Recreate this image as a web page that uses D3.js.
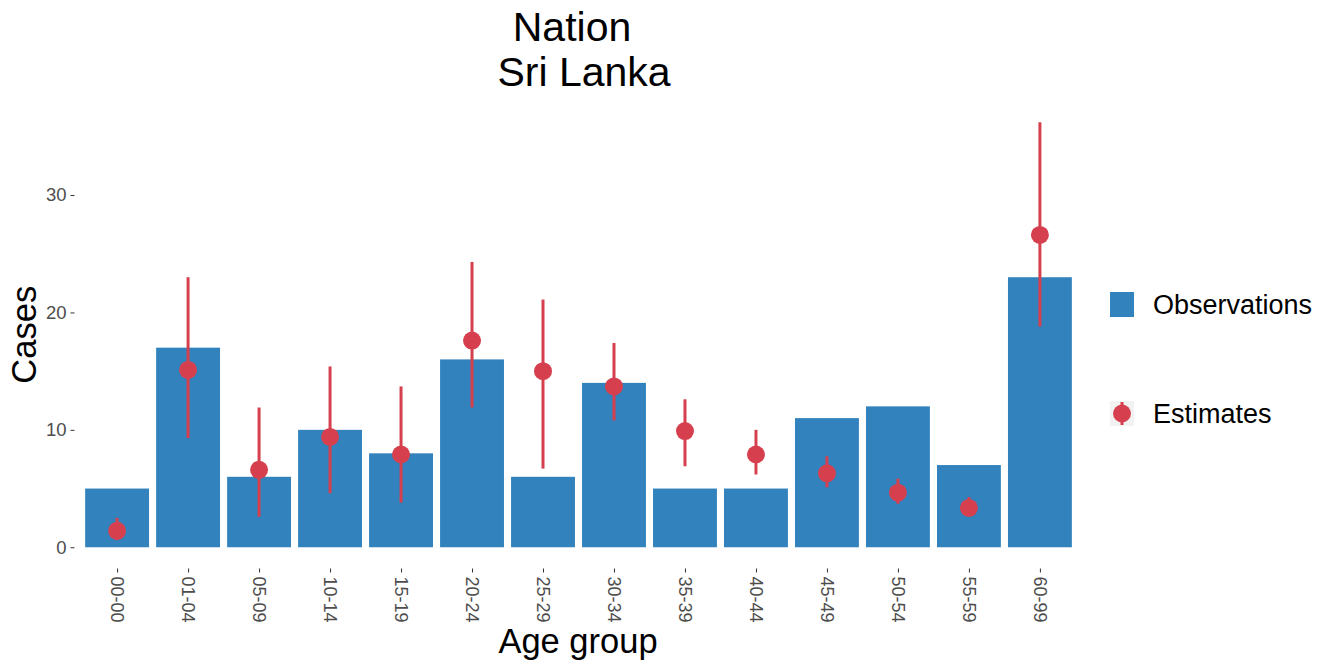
<!DOCTYPE html>
<html><head><meta charset="utf-8">
<script src="https://cdn.jsdelivr.net/npm/d3@7"></script>
<style>body{margin:0;background:#fff;} text{font-family:"Liberation Sans",Arial,sans-serif;}</style>
</head><body><svg id="c" width="1330" height="662"></svg>
<script>
const categories = ["00-00","01-04","05-09","10-14","15-19","20-24","25-29","30-34","35-39","40-44","45-49","50-54","55-59","60-99"];
const observations = [5,17,6,10,8,16,6,14,5,5,11,12,7,23];
const estimates = [1.4,15.1,6.6,9.4,7.9,17.6,15.0,13.7,9.9,7.9,6.3,4.65,3.35,26.6];
const estLower = [0.6,9.3,2.6,4.6,3.8,11.9,6.7,10.8,6.9,6.2,5.1,3.7,2.7,18.8];
const estUpper = [2.5,23.0,11.9,15.4,13.7,24.3,21.1,17.4,12.6,10.0,7.75,5.85,4.27,36.2];
const yTicks = [0,10,20,30];

const svg = d3.select("#c");
const panel = {left:74.5, right:1082.5, top:101, bottom:568.5};
const barColor = "#3182BD", estColor = "#D6404E";

const n = categories.length;
const x = d3.scaleLinear().domain([0.4, n+0.6]).range([panel.left, panel.right]);
const step = x(2)-x(1);
const ymax = d3.max(estUpper), ymin = 0;
const pad = (ymax-ymin)*0.05;
const y = d3.scaleLinear().domain([ymin-pad, ymax+pad]).range([panel.bottom, panel.top]);

svg.append("g").selectAll("rect").data(observations).join("rect")
  .attr("x",(d,i)=>x(i+1)-0.45*step).attr("width",0.9*step)
  .attr("y",d=>y(d)).attr("height",d=>y(0)-y(d)).attr("fill",barColor);

svg.append("g").selectAll("line").data(estimates).join("line")
  .attr("x1",(d,i)=>x(i+1)).attr("x2",(d,i)=>x(i+1))
  .attr("y1",(d,i)=>y(estLower[i])).attr("y2",(d,i)=>y(estUpper[i]))
  .attr("stroke",estColor).attr("stroke-width",3);
svg.append("g").selectAll("circle").data(estimates).join("circle")
  .attr("cx",(d,i)=>x(i+1)).attr("cy",d=>y(d)).attr("r",9).attr("fill",estColor);

const yAxis = svg.append("g").attr("transform",`translate(${panel.left},0)`)
  .call(d3.axisLeft(y).tickValues(yTicks).tickSize(4).tickPadding(4));
yAxis.select(".domain").remove();
yAxis.selectAll("line").attr("stroke","#333").attr("stroke-width",1);
yAxis.selectAll("text").attr("fill","#4d4d4d").style("font-size","18.5px").style("font-family","Liberation Sans, Arial, sans-serif");

const xAxis = svg.append("g").attr("transform",`translate(0,${panel.bottom})`)
  .call(d3.axisBottom(x).tickValues(d3.range(1,n+1)).tickFormat(i=>categories[i-1]).tickSize(4).tickPadding(4));
xAxis.select(".domain").remove();
xAxis.selectAll("line").attr("stroke","#333").attr("stroke-width",1);
xAxis.selectAll("text").attr("fill","#4d4d4d").style("font-size","18px").style("font-family","Liberation Sans, Arial, sans-serif")
  .attr("transform","rotate(90)").attr("text-anchor","start").attr("x",8).attr("y",0).attr("dy","0.35em");

svg.append("text").attr("x",572).attr("y",41).attr("text-anchor","middle").style("font-size","41px").attr("fill","#000").text("Nation");
svg.append("text").attr("x",584).attr("y",86).attr("text-anchor","middle").style("font-size","41px").attr("fill","#000").text("Sri Lanka");
svg.append("text").attr("x",578).attr("y",653).attr("text-anchor","middle").style("font-size","34.5px").attr("fill","#000").text("Age group");
svg.append("text").attr("transform",`translate(36,${(panel.top+panel.bottom)/2}) rotate(-90)`).attr("text-anchor","middle").style("font-size","34.5px").attr("fill","#000").text("Cases");

const lg = svg.append("g");
lg.append("rect").attr("x",1110).attr("y",292).attr("width",24).attr("height",25).attr("fill",barColor);
lg.append("text").attr("x",1153).attr("y",314).style("font-size","27px").attr("fill","#000").text("Observations");
lg.append("rect").attr("x",1110).attr("y",401).attr("width",24).attr("height",25).attr("fill","#f2f2f2");
lg.append("line").attr("x1",1122).attr("x2",1122).attr("y1",402).attr("y2",425).attr("stroke",estColor).attr("stroke-width",3);
lg.append("circle").attr("cx",1122).attr("cy",413.5).attr("r",9).attr("fill",estColor);
lg.append("text").attr("x",1153).attr("y",423).style("font-size","27px").attr("fill","#000").text("Estimates");
</script></body></html>
